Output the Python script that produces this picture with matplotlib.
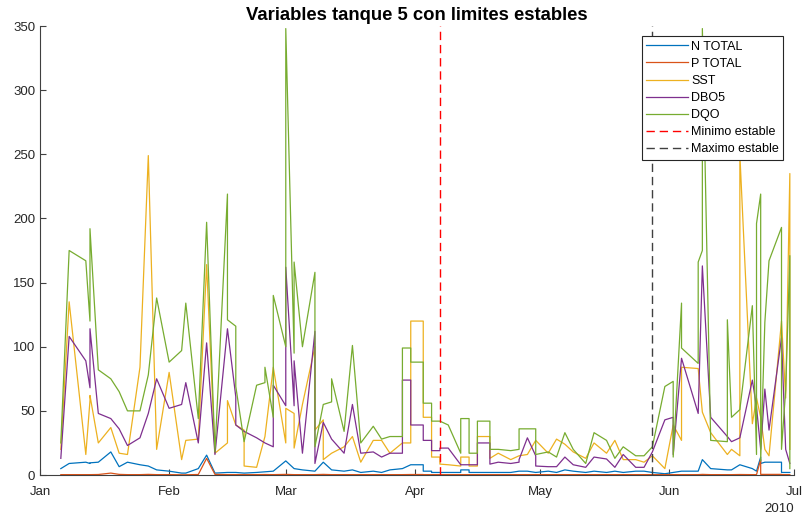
import matplotlib
matplotlib.use("Agg")
import matplotlib.pyplot as plt
import matplotlib.dates as mdates
import pandas as pd

plt.rcParams["font.family"] = ["Liberation Sans", "DejaVu Sans"]

# fechas de muestreo (repetidas = cambio brusco en el mismo dia)
fechas = [
    "01-06", "01-08", "01-12", "01-13", "01-13", "01-15", "01-18", "01-20", "01-22", "01-25",
    "01-27", "01-29", "02-01", "02-04", "02-05", "02-08", "02-10", "02-12", "02-15", "02-15",
    "02-17", "02-17", "02-19", "02-19", "02-22", "02-24", "02-24", "02-26", "02-26", "03-01",
    "03-01", "03-03", "03-03", "03-05", "03-08", "03-08", "03-10", "03-10", "03-12", "03-12",
    "03-15", "03-17", "03-19", "03-22", "03-24", "03-26", "03-29", "03-29", "03-31", "03-31",
    "04-03", "04-03", "04-05", "04-05", "04-07", "04-07", "04-09", "04-12", "04-12", "04-14",
    "04-14", "04-16", "04-16", "04-19", "04-19", "04-21", "04-24", "04-26", "04-26", "04-28",
    "04-30", "04-30", "05-03", "05-05", "05-07", "05-09", "05-12", "05-14", "05-17", "05-19",
    "05-21", "05-24", "05-26", "05-28", "05-31", "06-02", "06-02", "06-04", "06-04", "06-08",
    "06-08", "06-09", "06-09", "06-11", "06-15", "06-15", "06-16", "06-18", "06-18", "06-21",
    "06-22", "06-22", "06-23", "06-23", "06-24", "06-25", "06-28", "06-28", "06-29", "06-30",
    "06-30",
]

n_total = [
    5, 9, 10, 9, 9.5, 10, 18, 6.5, 10, 8,
    7, 4, 3, 1.5, 1.5, 5, 15.5, 1.5, 2, 2,
    2, 2, 1.5, 1.5, 2, 2.5, 2.5, 3, 3, 11,
    11, 5, 5, 4, 3, 3, 10, 10, 4, 4,
    3, 4, 2, 3, 2, 4, 5, 5, 8, 8,
    8, 3, 3, 2, 2, 2, 2, 2, 4, 4,
    2, 2, 2, 2, 2, 2, 2, 3, 3, 3,
    2, 2, 3, 2, 4, 3, 2, 3, 2, 3,
    2, 3, 3, 2, 1, 2, 2, 3, 3, 3,
    3, 12, 12, 5, 4, 4, 4, 8, 8, 5,
    3, 3, 14, 9, 10, 10, 10, 2, 2, 2,
    2,
]

p_total = [
    0.3, 0.3, 0.3, 0.3, 0.3, 0.4, 1.5, 0.5, 0.3, 0.3,
    0.5, 0.3, 0.3, 0.2, 0.2, 0.4, 13, 0.5, 0.3, 0.3,
    0.3, 0.3, 0.3, 0.3, 0.3, 0.4, 0.4, 0.3, 0.3, 0.5,
    0.5, 0.3, 0.3, 0.3, 0.3, 0.3, 0.5, 0.5, 0.3, 0.3,
    0.3, 0.3, 0.3, 0.3, 0.3, 0.3, 0.3, 0.3, 0.4, 0.4,
    0.4, 0.3, 0.3, 0.3, 0.3, 0.3, 0.3, 0.3, 0.3, 0.3,
    0.3, 0.3, 0.3, 0.3, 0.3, 0.3, 0.3, 0.3, 0.3, 0.3,
    0.3, 0.3, 0.3, 0.3, 0.3, 0.3, 0.3, 0.3, 0.3, 0.3,
    0.3, 0.3, 0.3, 0.3, 0.3, 0.3, 0.3, 0.3, 0.3, 0.3,
    0.3, 0.5, 0.5, 0.3, 0.3, 0.3, 0.3, 0.4, 0.4, 0.3,
    0.3, 0.3, 12, 0.5, 0.5, 0.5, 0.5, 0.3, 0.3, 0.3,
    0.3,
]

sst = [
    20, 135, 16, 58, 62, 25, 37, 17, 16, 84,
    249, 20, 80, 12, 27, 28, 164, 17, 25, 58,
    39, 39, 35, 7, 6, 30, 30, 84, 84, 25,
    52, 48, 21, 55, 100, 35, 43, 12, 17, 17,
    22, 30, 10, 27, 27, 17, 25, 25, 25, 120,
    120, 45, 45, 14, 14, 8.5, 8, 7, 14, 14,
    7, 7, 30, 30, 13, 17, 12, 15, 15, 16,
    27, 27, 17, 28, 24, 18, 13, 25, 17, 27,
    12, 12, 10, 15, 5, 39, 39, 27, 84, 83,
    83, 49, 49, 33, 16, 16, 20, 15, 250, 40,
    60, 60, 45, 45, 20, 15, 120, 120, 60, 235,
    20,
]

dbo5 = [
    13, 108, 89, 68, 114, 48, 44, 36, 23, 29,
    48, 75, 52, 55, 72, 25, 103, 16, 114, 114,
    61, 39, 34, 34, 29, 25, 25, 22, 70, 54,
    162, 54, 89, 17, 112, 9, 41, 41, 28, 28,
    17, 55, 17, 18, 14, 17, 17, 74, 74, 39,
    39, 27, 27, 19, 19, 21, 21, 8, 8, 8,
    8, 8, 25, 25, 8.5, 10, 9, 10, 12, 29,
    15, 7, 6.5, 6.5, 14, 8, 6, 14, 12.5, 6,
    16, 6, 6, 18, 43, 45, 16, 91, 91, 48,
    48, 163, 163, 45, 30, 30, 26, 29, 29, 74,
    53, 53, 20, 20, 67, 35, 107, 107, 20, 9,
    9,
]

dqo = [
    25, 175, 167, 120, 192, 82, 75, 65, 50, 50,
    78, 138, 88, 97, 134, 44, 197, 18, 219, 121,
    116, 69, 26, 26, 70, 72, 84, 45, 140, 100,
    348, 95, 166, 100, 158, 22, 55, 55, 57, 75,
    34, 101, 25, 38, 28, 30, 30, 99, 99, 88,
    88, 56, 56, 42, 42, 42, 39, 17, 44, 44,
    17, 17, 42, 42, 20, 20, 19, 20, 36, 36,
    36, 16, 18, 14, 33, 20, 9, 33, 27, 13,
    22, 15, 15, 22, 69, 73, 14, 134, 99, 87,
    166, 175, 348, 27, 26, 121, 45, 51, 51, 132,
    16, 196, 219, 11, 119, 167, 193, 20, 66, 171,
    5,
]

minimo_estable = "2010-04-07"
maximo_estable = "2010-05-28"

t = pd.to_datetime(["2010-" + f for f in fechas])

fig = plt.figure(figsize=(8.03, 5.17), dpi=100)
ax = fig.add_axes([0.0498, 0.0812, 0.939, 0.8685])

lw = 0.9
ax.plot(t, n_total, color="#0072BD", lw=lw, label="N TOTAL")
ax.plot(t, p_total, color="#D95319", lw=lw, label="P TOTAL")
ax.plot(t, sst, color="#EDB120", lw=lw, label="SST")
ax.plot(t, dbo5, color="#7E2F8E", lw=lw, label="DBO5")
ax.plot(t, dqo, color="#77AC30", lw=lw, label="DQO")
ax.axvline(pd.Timestamp(minimo_estable), color="#FF0000", lw=1.0,
           linestyle=(0, (6, 3.5)), label="Minimo estable")
ax.axvline(pd.Timestamp(maximo_estable), color="#404040", lw=1.0,
           linestyle=(0, (6, 3.5)), label="Maximo estable")

ax.set_xlim(pd.Timestamp("2010-01-01"), pd.Timestamp("2010-07-01"))
ax.set_ylim(0, 350)
ax.set_yticks(range(0, 351, 50))
ax.xaxis.set_major_locator(mdates.MonthLocator())
ax.xaxis.set_major_formatter(mdates.DateFormatter("%b"))

for side in ("top", "right"):
    ax.spines[side].set_visible(False)
for side in ("left", "bottom"):
    ax.spines[side].set_color("#404040")
    ax.spines[side].set_linewidth(0.8)
ax.tick_params(direction="in", length=4, width=0.8, color="#404040",
               labelcolor="#262626", labelsize=9.5)
ax.tick_params(axis="x", pad=8)

ax.set_title("Variables tanque 5 con limites estables", fontsize=13.3,
             fontweight="bold", pad=4)
ax.text(1.0, -0.062, "2010", transform=ax.transAxes, ha="right", va="top",
        fontsize=9.5, color="#262626")

leg = ax.legend(loc="upper right", bbox_to_anchor=(0.986, 0.977), borderaxespad=0,
                fancybox=False, edgecolor="#262626", fontsize=9,
                handlelength=3.3, handletextpad=0.3, labelspacing=0.41,
                borderpad=0.35, framealpha=1)
leg.get_frame().set_linewidth(0.8)

fig.savefig("out.png", dpi=100)
